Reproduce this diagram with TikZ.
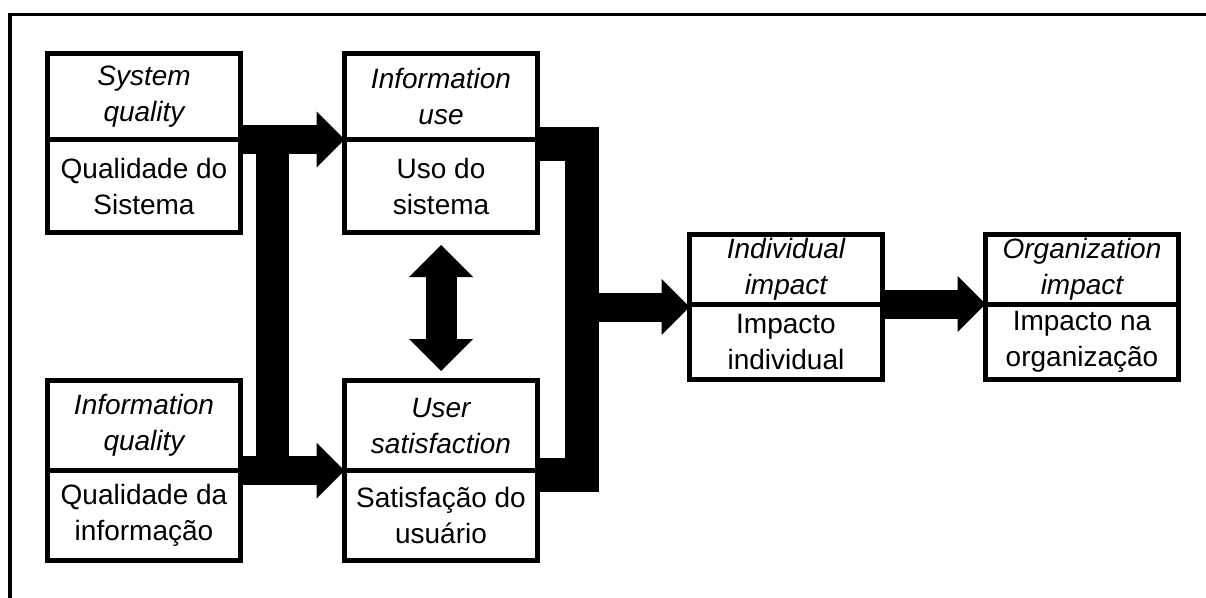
\documentclass[tikz,border=0pt]{standalone}
\usepackage{fontspec}
\setmainfont{Liberation Sans}
\usetikzlibrary{positioning,calc,arrows.meta}

\begin{document}
\begin{tikzpicture}[x=1pt,y=-1pt,
    head/.style={draw,line width=5pt,minimum width=193pt,inner sep=0pt,outer sep=0pt,
      align=center,font=\fontsize{28}{36}\selectfont\itshape},
    body/.style={draw,line width=5pt,minimum width=193pt,inner sep=0pt,outer sep=0pt,
      align=center,font=\fontsize{28}{36}\selectfont},
    fat/.style={line width=29pt,-{Triangle[length=28pt,width=56pt,line width=0pt]}},
    dbl/.style={line width=31pt,{Triangle[length=32pt,width=64pt,line width=0pt]}-{Triangle[length=32pt,width=64pt,line width=0pt]}},
    bar/.style={line width=33pt}]
  \useasboundingbox (0,0) rectangle (1206,597);
  % frame (only top and left edge show)
  \draw[line width=3.5pt] (10,620) |- (1230,14.5);

  % boxes: english name on top, portuguese below
  \node[head,minimum height=86pt] (sqt) at (144,96.5) {System\\quality};
  \node[body,minimum height=93pt,below=0pt of sqt] (sqb) {Qualidade do\\Sistema};
  \node[head,minimum height=90pt] (iqt) at (144,425.5) {Information\\quality};
  \node[body,minimum height=90pt,below=0pt of iqt] (iqb) {Qualidade da\\informação};
  \node[head,minimum height=86pt] (iut) at (441,96.5) {Information\\use};
  \node[body,minimum height=93pt,below=0pt of iut] (iub) {Uso do\\sistema};
  \node[head,minimum height=90pt] (ust) at (441,425.5) {User\\satisfaction};
  \node[body,minimum height=90pt,below=0pt of ust] (usb) {Satisfação do\\usuário};
  \node[head,minimum height=70pt] (iit) at (786,269) {Individual\\impact};
  \node[body,minimum height=75pt,below=0pt of iit] (iib) {Impacto\\individual};
  \node[head,minimum height=70pt] (oit) at (1082,269) {Organization\\impact};
  \node[body,minimum height=75pt,below=0pt of oit] (oib) {Impacto na\\organização};

  % left side
  \draw[fat] (sqt.south east) -- (iut.south west);
  \draw[fat] (iqt.south east) -- (ust.south west);
  \coordinate (lt) at ($(sqt.south east)+(32,-14.5)$);
  \coordinate (lb) at ($(iqt.south east)+(32,14.5)$);
  \draw[bar] (lt) -- (lb);

  % use <-> satisfaction
  \draw[dbl,shorten <=12.5pt,shorten >=9.5pt] (iub.south) -- (ust.north);

  % right side
  \coordinate (rj) at ($(iut.south east)+(44.5,4.5)$);
  \draw[bar,line width=34pt] ($(iut.south east)+(0,4.5)$) -- (rj) |- ($(ust.south east)+(0,4)$);
  \draw[fat] ($(rj |- iit.south west)+(0,3)$) -- ($(iit.south west)+(0,3)$);
  \draw[fat] (iit.south east) -- (oit.south west);
\end{tikzpicture}
\end{document}
